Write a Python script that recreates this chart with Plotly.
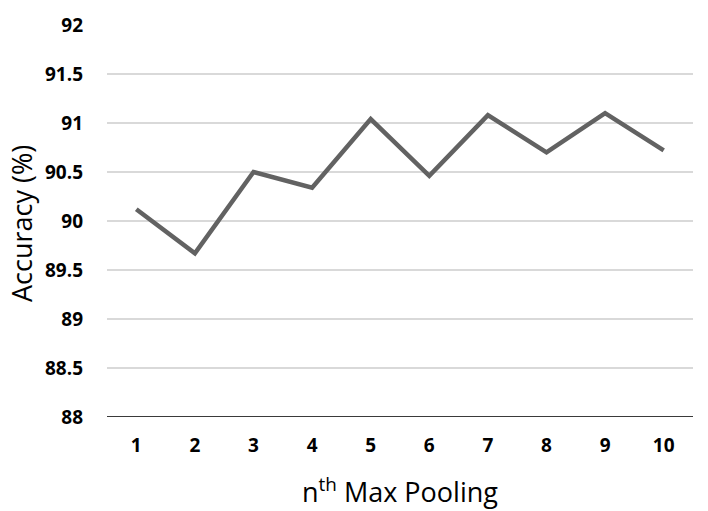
import plotly.graph_objects as go

pooling = [1, 2, 3, 4, 5, 6, 7, 8, 9, 10]
accuracy = [90.12, 89.67, 90.50, 90.34, 91.04, 90.46, 91.08, 90.70, 91.10, 90.72]
y_ticks = [88, 88.5, 89, 89.5, 90, 90.5, 91, 91.5, 92]
y_tick_text = ["88", "88.5", "89", "89.5", "90", "90.5", "91", "91.5", "92"]
x_title = "n<sup>th</sup> Max Pooling"
y_title = "Accuracy (%)"

fig = go.Figure()
fig.add_trace(go.Scatter(
    x=pooling, y=accuracy, mode="lines",
    line=dict(color="#626262", width=4.5),
    showlegend=False, hoverinfo="skip",
))

font_family = "'Open Sans', sans-serif"

fig.update_layout(
    width=708, height=511,
    margin=dict(l=107, r=15, t=22, b=94),
    paper_bgcolor="white", plot_bgcolor="white",
    font=dict(family=font_family, color="#000000"),
    xaxis=dict(
        range=[0.5, 10.5],
        tickvals=pooling,
        ticktext=[str(v) for v in pooling],
        tickfont=dict(size=19, family=font_family, weight="bold"),
        showgrid=False, zeroline=False,
        showline=False,
        ticks="", ticklabelstandoff=15,
        fixedrange=True,
    ),
    yaxis=dict(
        range=[88, 92],
        tickvals=y_ticks,
        ticktext=y_tick_text,
        tickfont=dict(size=19, family=font_family, weight="bold"),
        showgrid=True, gridcolor="#d9d9d9", gridwidth=1.5,
        zeroline=False, showline=False,
        ticks="", ticklabelstandoff=23,
        fixedrange=True,
    ),
    shapes=[dict(
        type="line", xref="paper", yref="y", x0=0, x1=1, y0=88, y1=88,
        line=dict(color="#3a3a3a", width=2),
    )],
    annotations=[
        dict(text=x_title, xref="paper", yref="paper", x=0.5, y=0,
             xanchor="center", yanchor="middle", yshift=-73, showarrow=False,
             font=dict(size=27, family=font_family, color="#000000")),
        dict(text=y_title, xref="paper", yref="paper", x=0, y=0.5,
             xanchor="center", yanchor="middle", xshift=-86, yshift=-3,
             textangle=-90, showarrow=False,
             font=dict(size=27, family=font_family, color="#000000")),
    ],
)

fig.write_html("out.html")
